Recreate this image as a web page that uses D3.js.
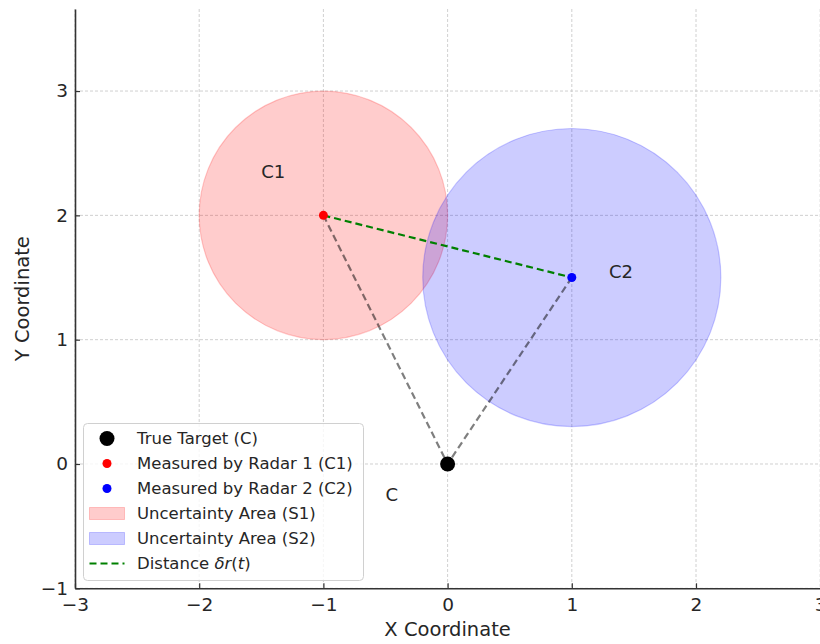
<!DOCTYPE html>
<html><head><meta charset="utf-8">
<script src="https://cdn.jsdelivr.net/npm/d3@7"></script>
<style>body{margin:0;background:#fff}svg{display:block}text{font-family:"DejaVu Sans",sans-serif}</style>
</head><body>
<svg id="c" width="820" height="644"></svg>
<script>
// Data
const trueTarget = {x: 0, y: 0, label: "C"};
const radarPoints = [
  {name: "C1", x: -1, y: 2, r: 1.0, color: "red", fill: "#ff0000"},
  {name: "C2", x: 1, y: 1.5, r: 1.2, color: "blue", fill: "#0000ff"}
];
const textLabels = [
  {text: "C1", x: -1.5, y: 2.3},
  {text: "C2", x: 1.3, y: 1.5},
  {text: "C", x: -0.5, y: -0.3}
];
const xTicks = [-3, -2, -1, 0, 1, 2, 3];
const yTicks = [-1, 0, 1, 2, 3];
const xDomain = [-3, 3];
const yDomain = [-1, 3.66];
const legendLabels = ["True Target (C)", "Measured by Radar 1 (C1)", "Measured by Radar 2 (C2)",
  "Uncertainty Area (S1)", "Uncertainty Area (S2)", "Distance"];

const svg = d3.select("#c");
const L = 75, R = 820.2, T = 9, B = 588.3;
const x = d3.scaleLinear().domain(xDomain).range([L, R]);
const y = d3.scaleLinear().domain(yDomain).range([B, T]);
const fmt = d => d < 0 ? "\u2212" + Math.abs(d) : String(d);

// grid
const g = svg.append("g");
g.selectAll(".gx").data(xTicks).join("line")
  .attr("x1", d => x(d)).attr("x2", d => x(d)).attr("y1", T).attr("y2", B)
  .attr("stroke", "#c4c4c4").attr("stroke-width", 0.8).attr("stroke-dasharray", "3,2");
g.selectAll(".gy").data(yTicks).join("line")
  .attr("x1", L).attr("x2", R).attr("y1", d => y(d)).attr("y2", d => y(d))
  .attr("stroke", "#c4c4c4").attr("stroke-width", 0.8).attr("stroke-dasharray", "3,2");

// circles (uncertainty)
svg.selectAll(".unc").data(radarPoints).join("circle")
  .attr("cx", d => x(d.x)).attr("cy", d => y(d.y))
  .attr("r", d => x(d.r) - x(0))
  .attr("fill", d => d.fill).attr("fill-opacity", 0.2)
  .attr("stroke", d => d.fill).attr("stroke-opacity", 0.2).attr("stroke-width", 1.2);

// gray dashed lines
radarPoints.forEach(p => {
  svg.append("line").attr("x1", x(p.x)).attr("y1", y(p.y)).attr("x2", x(trueTarget.x)).attr("y2", y(trueTarget.y))
    .attr("stroke", "#000").attr("stroke-opacity", 0.5).attr("stroke-width", 2.2).attr("stroke-dasharray", "7,4");
});
// green distance
svg.append("line").attr("x1", x(radarPoints[0].x)).attr("y1", y(radarPoints[0].y))
  .attr("x2", x(radarPoints[1].x)).attr("y2", y(radarPoints[1].y))
  .attr("stroke", "green").attr("stroke-width", 2.2).attr("stroke-dasharray", "7,4");

// points
svg.append("circle").attr("cx", x(trueTarget.x)).attr("cy", y(trueTarget.y)).attr("r", 7.5).attr("fill", "#000");
svg.selectAll(".pt").data(radarPoints).join("circle")
  .attr("cx", d => x(d.x)).attr("cy", d => y(d.y)).attr("r", 4.5).attr("fill", d => d.fill);

// text labels
svg.selectAll(".lbl").data(textLabels).join("text")
  .attr("x", d => x(d.x)).attr("y", d => y(d.y)).attr("font-size", 18).attr("fill", "#262626")
  .text(d => d.text);

// axes
const xAxis = d3.axisBottom(x).tickValues(xTicks).tickFormat(fmt).tickSizeInner(-5).tickSizeOuter(0).tickPadding(10);
const yAxis = d3.axisLeft(y).tickValues(yTicks).tickFormat(fmt).tickSizeInner(-5).tickSizeOuter(0).tickPadding(7);
const gx = svg.append("g").attr("transform", `translate(0,${B})`).call(xAxis);
const gy = svg.append("g").attr("transform", `translate(${L},0)`).call(yAxis);
[gx, gy].forEach(a => {
  a.select(".domain").attr("stroke", "#333").attr("stroke-width", 1.6);
  a.selectAll(".tick line").attr("stroke", "#333").attr("stroke-width", 1.2);
  a.selectAll(".tick text").attr("font-size", 18.5).attr("fill", "#262626").attr("font-family", "DejaVu Sans");
});
gx.selectAll(".tick text").attr("dy", "0.71em");

svg.append("text").attr("x", x(0)).attr("y", 636).attr("text-anchor", "middle")
  .attr("font-size", 19.5).attr("fill", "#262626").text("X Coordinate");
svg.append("text").attr("transform", `translate(29,${(T + B) / 2}) rotate(-90)`).attr("text-anchor", "middle")
  .attr("font-size", 19.5).attr("fill", "#262626").text("Y Coordinate");

// legend
const lg = svg.append("g");
lg.append("rect").attr("x", 83.5).attr("y", 423.5).attr("width", 280).attr("height", 157).attr("rx", 4)
  .attr("fill", "#fff").attr("fill-opacity", 0.8).attr("stroke", "#d0d0d0").attr("stroke-width", 1);
const rows = legendLabels.map((t, i) => ({t, i, cy: 438.5 + i * 25}));
const hx = 107;
lg.append("circle").attr("cx", hx).attr("cy", rows[0].cy).attr("r", 7.5).attr("fill", "#000");
lg.append("circle").attr("cx", hx).attr("cy", rows[1].cy).attr("r", 4.5).attr("fill", radarPoints[0].fill);
lg.append("circle").attr("cx", hx).attr("cy", rows[2].cy).attr("r", 4.5).attr("fill", radarPoints[1].fill);
[3, 4].forEach((ri, k) => {
  lg.append("rect").attr("x", 89.5).attr("y", rows[ri].cy - 6).attr("width", 35).attr("height", 12)
    .attr("fill", radarPoints[k].fill).attr("fill-opacity", 0.2)
    .attr("stroke", radarPoints[k].fill).attr("stroke-opacity", 0.2);
});
lg.append("line").attr("x1", 89.5).attr("x2", 124.5).attr("y1", rows[5].cy).attr("y2", rows[5].cy)
  .attr("stroke", "green").attr("stroke-width", 2.2).attr("stroke-dasharray", "7,4");
const lt = lg.selectAll(".lt").data(rows).join("text")
  .attr("x", 137).attr("y", d => d.cy).attr("dy", "0.35em").attr("font-size", 16.5).attr("fill", "#262626");
lt.each(function(d) {
  const s = d3.select(this);
  if (d.i === 5) {
    s.append("tspan").text("Distance ");
    s.append("tspan").attr("font-style", "italic").text("\u03b4r");
    s.append("tspan").text("(");
    s.append("tspan").attr("font-style", "italic").text("t");
    s.append("tspan").text(")");
  } else s.text(d.t);
});
</script>
</body></html>
